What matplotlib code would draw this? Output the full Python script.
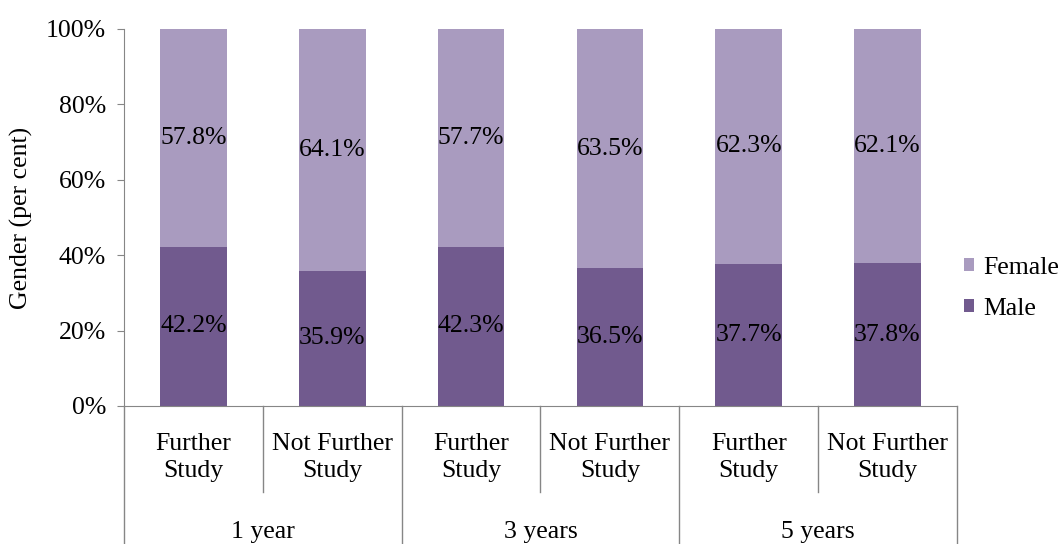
import numpy as np
import matplotlib.pyplot as plt
from matplotlib.ticker import FuncFormatter

# Data
groups = ["1 year", "3 years", "5 years"]
subcats = ["Further\nStudy", "Not Further\nStudy"]
male = [42.2, 35.9, 42.3, 36.5, 37.7, 37.8]
female = [57.8, 64.1, 57.7, 63.5, 62.3, 62.1]

male_color = "#715a8e"
female_color = "#a99bbf"
axis_color = "#868686"
fs = 18.5

plt.rcParams['font.family'] = ['Liberation Serif', 'DejaVu Serif']

fig = plt.figure(figsize=(10.58, 5.44), dpi=100)
ax = fig.add_axes([0.1172, 0.2537, 0.7873, 0.6930])

x = np.arange(len(male))
ax.bar(x, male, width=0.48, color=male_color, label="Male")
ax.bar(x, female, width=0.48, bottom=male, color=female_color, label="Female")

# Data labels in the middle of each segment
for i in range(len(male)):
    ax.text(x[i], male[i] / 2, f"{male[i]:.1f}%", ha="center", va="center", fontsize=fs)
    ax.text(x[i], male[i] + female[i] / 2, f"{female[i]:.1f}%", ha="center", va="center", fontsize=fs)

ax.set_xlim(-0.5, len(male) - 0.5)
ax.set_ylim(0, 100)
ax.set_yticks(np.arange(0, 101, 20))
ax.yaxis.set_major_formatter(FuncFormatter(lambda v, p: f"{v:.0f}%"))
ax.tick_params(axis="y", direction="out", length=5, color=axis_color, labelsize=fs, pad=8)
ax.set_ylabel("Gender (per cent)", fontsize=fs, labelpad=9)

for s in ["top", "right"]:
    ax.spines[s].set_visible(False)
for s in ["left", "bottom"]:
    ax.spines[s].set_color(axis_color)

# Two-level category axis
ax.set_xticks([])
trans = ax.get_xaxis_transform()
for i in range(len(male)):
    ax.text(x[i], -0.137, subcats[i % 2], ha="center", va="center", fontsize=fs,
            transform=trans, linespacing=1.3)
for g, name in enumerate(groups):
    ax.text(2 * g + 0.5, -0.335, name, ha="center", va="center", fontsize=fs, transform=trans)

for b in np.arange(-0.5, len(male), 1):
    bottom = -0.366 if (b + 0.5) % 2 == 0 else -0.228
    ax.plot([b, b], [0, bottom], color=axis_color, lw=1, transform=trans, clip_on=False)

# Legend: Female above Male
handles, labels = ax.get_legend_handles_labels()
fig.legend(handles[::-1], labels[::-1], loc="center left", bbox_to_anchor=(0.911, 0.47),
           frameon=False, fontsize=fs, handlelength=0.4, handleheight=0.4,
           handletextpad=0.35, labelspacing=0.75, borderpad=0, borderaxespad=0)

fig.savefig("out.png", dpi=100)
